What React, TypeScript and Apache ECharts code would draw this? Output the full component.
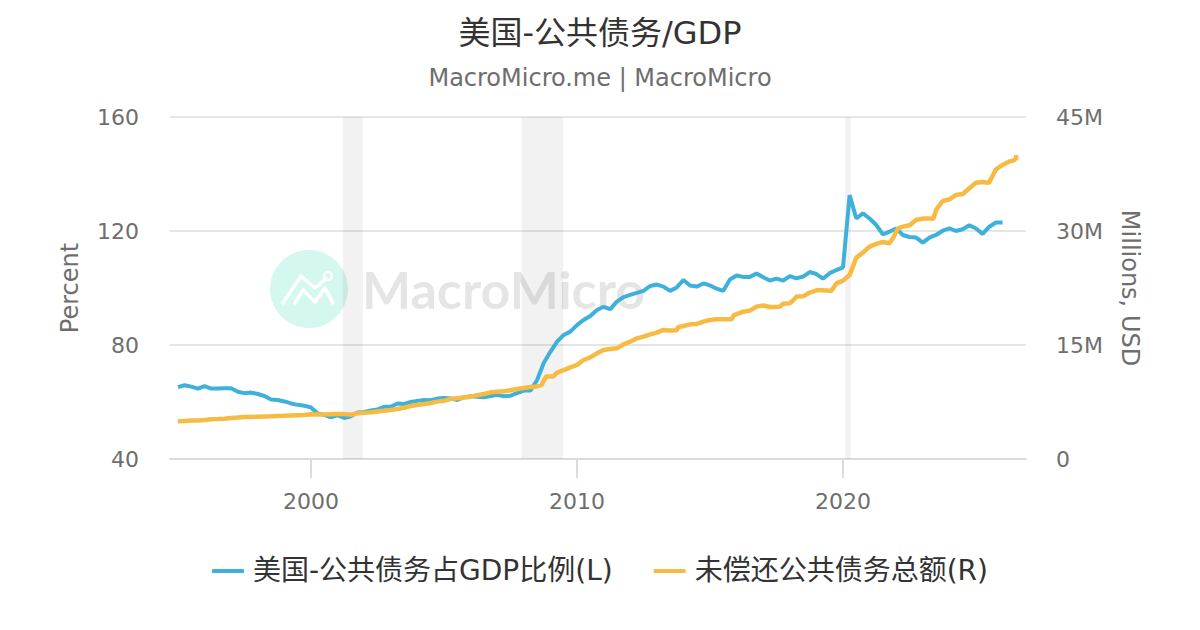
import React, { useEffect, useRef } from "react";
import * as echarts from "echarts";

const START_YEAR = 1995;
const STEP = 0.25;

// Percent of GDP, one value per quarter from 1995
const debtToGdp = [
  65.2, 65.9, 65.4, 64.7, 65.6, 64.7, 64.7, 64.8, 64.8, 63.6, 63.1, 63.3, 62.8, 62.1, 60.9, 60.7,
  60.2, 59.5, 59.0, 58.7, 58.1, 56.0, 55.5, 54.6, 55.4, 54.4, 55.0, 56.3, 56.5, 57.0, 57.4, 58.3,
  58.3, 59.5, 59.3, 60.0, 60.4, 60.7, 60.6, 61.2, 61.4, 61.2, 60.7, 61.7, 62.0, 61.8, 61.7, 62.1,
  62.5, 62.0, 62.2, 63.1, 64.0, 64.0, 67.7, 73.7, 77.6, 81.2, 83.5, 84.7, 87.0, 88.8, 90.2, 92.3,
  93.4, 92.6, 95.2, 96.8, 97.6, 98.3, 99.0, 100.7, 101.2, 100.5, 99.0, 100.2, 102.8, 100.9, 100.5, 101.6,
  100.9, 99.8, 99.0, 103.0, 104.4, 103.9, 103.9, 105.1, 103.8, 102.6, 103.3, 102.6, 104.2, 103.4, 104.0, 105.6,
  104.9, 103.3, 105.2, 106.3, 107.2, 132.6, 124.4, 126.2, 124.4, 122.1, 118.8, 119.8, 120.9, 118.6, 117.9, 117.7,
  115.9, 117.7, 118.6, 120.1, 120.9, 120.0, 120.6, 122.0, 120.9, 119.0, 121.5, 123.0, 123.0,
];

// Millions of USD, shown in M, one value per quarter from 1995
const totalDebt = [
  4.96, 5.0, 5.05, 5.08, 5.13, 5.22, 5.25, 5.3, 5.38, 5.45, 5.53, 5.54, 5.57, 5.6, 5.62, 5.66,
  5.68, 5.72, 5.76, 5.8, 5.88, 5.87, 5.87, 5.9, 5.92, 5.92, 5.83, 6.01, 6.07, 6.14, 6.25, 6.36,
  6.45, 6.58, 6.75, 6.97, 7.1, 7.23, 7.37, 7.55, 7.65, 7.9, 8.0, 8.1, 8.2, 8.4, 8.55, 8.77,
  8.85, 8.9, 9.04, 9.2, 9.35, 9.47, 9.55, 10.3, 10.84, 11.36, 11.7, 12.06, 12.37, 13.03, 13.38, 13.9,
  14.34, 14.47, 14.56, 15.09, 15.44, 15.88, 16.1, 16.4, 16.62, 16.98, 16.9, 16.95, 17.5, 17.72, 17.77, 18.07,
  18.29, 18.38, 18.38, 18.38, 19.05, 19.38, 19.52, 20.05, 20.2, 20.0, 20.0, 20.44, 20.49, 21.37, 21.4, 21.9,
  22.2, 22.2, 22.15, 23.1, 23.47, 24.2, 26.5, 27.15, 27.95, 28.3, 28.55, 28.4, 29.9, 30.57, 30.75, 31.45,
  31.63, 31.65, 32.77, 33.95, 34.17, 34.74, 34.87, 35.62, 36.36, 36.45, 36.4, 38.12, 38.69, 39.13, 39.4,
];

// Corners of the steps in the debt line, read between the quarters
const totalDebtSteps = [
  [2008.67, 9.74], [2008.84, 10.84], [2009.1, 10.84], [2013.8, 17.33],
  [2015.82, 18.38], [2015.9, 18.95], [2017.63, 20.05], [2018.2, 21.14],
  [2019.57, 22.15], [2019.76, 23.03], [2021.9, 29.17], [2022.08, 30.36],
  [2023.4, 31.6], [2025.46, 36.36], [2026.42, 39.3], [2026.47, 39.45], [2026.52, 40.0],
];

const recessions = [
  [2001.2, 2001.95],
  [2007.92, 2009.48],
  [2020.08, 2020.3],
];

const yearTicks = [2000, 2010, 2020];

const FONT = '"DejaVu Sans", "Noto Sans CJK SC", sans-serif';
const GREY = "#6e6e6e";

const toPairs = (values: number[]) => values.map((v, i) => [START_YEAR + i * STEP, v]);

export default function App() {
  const ref = useRef<HTMLDivElement>(null);

  useEffect(() => {
    document.body.style.margin = "0";
    const chart = echarts.init(ref.current!, undefined, { renderer: "svg" });
    const logoStroke = { stroke: "#ffffff", lineWidth: 3.5, fill: "none", lineCap: "round", lineJoin: "round" };
    chart.setOption({
      animation: false,
      backgroundColor: "#ffffff",
      textStyle: { fontFamily: FONT },
      title: {
        text: "美国-公共债务/GDP",
        subtext: "MacroMicro.me | MacroMicro",
        left: "center",
        top: 12,
        itemGap: 17,
        textStyle: { fontFamily: FONT, fontSize: 32, fontWeight: "normal", color: "#333333" },
        subtextStyle: { fontFamily: FONT, fontSize: 24, color: GREY },
      },
      grid: { left: 170, right: 174, top: 117, bottom: 171 },
      legend: {
        bottom: 40,
        left: "center",
        icon: "roundRect",
        itemWidth: 32,
        itemHeight: 4,
        itemGap: 41,
        textStyle: { fontFamily: FONT, fontSize: 28, color: "#333333", padding: [0, 0, 0, 4] },
        data: ["美国-公共债务占GDP比例(L)", "未偿还公共债务总额(R)"],
      },
      graphic: [
        {
          type: "group",
          z: 1,
          silent: true,
          children: [
            { type: "circle", shape: { cx: 309, cy: 289, r: 39 }, style: { fill: "#d4f7f0" } },
            {
              type: "polyline",
              shape: { points: [[283, 303], [301, 276], [315, 288], [326, 279]] },
              style: logoStroke,
            },
            {
              type: "polyline",
              shape: { points: [[295, 303], [303, 290], [315, 302], [325, 288], [333, 303]] },
              style: logoStroke,
            },
            { type: "circle", shape: { cx: 328, cy: 276, r: 4 }, style: { stroke: "#ffffff", lineWidth: 2.5, fill: "none" } },
            {
              type: "text",
              x: 362,
              y: 289,
              style: {
                text: "MacroMicro",
                font: "700 52px Lato, sans-serif",
                fill: "rgba(0,0,0,0.1)",
                verticalAlign: "middle",
              },
            },
          ],
        },
      ],
      xAxis: {
        type: "value",
        min: 1994.7,
        max: 2026.88,
        axisLine: { show: true, lineStyle: { color: "#dcdcdc", width: 2 } },
        axisTick: { show: true, length: 19, customValues: yearTicks, lineStyle: { color: "#dcdcdc", width: 2 } },
        axisLabel: {
          customValues: yearTicks,
          margin: 31,
          fontSize: 22,
          color: GREY,
          fontFamily: FONT,
          formatter: (v: number) => String(Math.round(v)),
        },
        splitLine: { show: false },
      },
      yAxis: [
        {
          type: "value",
          min: 40,
          max: 160,
          interval: 40,
          name: "Percent",
          nameLocation: "middle",
          nameGap: 88,
          nameTextStyle: { fontFamily: FONT, fontSize: 24, color: GREY },
          axisLine: { show: false },
          axisTick: { show: false },
          axisLabel: { margin: 31, fontSize: 22, color: GREY, fontFamily: FONT },
          splitLine: { lineStyle: { color: "#e6e6e6", width: 2 } },
        },
        {
          type: "value",
          min: 0,
          max: 45,
          interval: 15,
          name: "Millions, USD",
          nameLocation: "middle",
          nameGap: 92,
          nameRotate: -90,
          nameTextStyle: { fontFamily: FONT, fontSize: 24, color: GREY },
          axisLine: { show: false },
          axisTick: { show: false },
          axisLabel: {
            margin: 30,
            fontSize: 22,
            color: GREY,
            fontFamily: FONT,
            formatter: (v: number) => (v === 0 ? "0" : `${v}M`),
          },
          splitLine: { show: false },
        },
      ],
      series: [
        {
          name: "美国-公共债务占GDP比例(L)",
          type: "line",
          yAxisIndex: 0,
          data: toPairs(debtToGdp),
          showSymbol: false,
          color: "#3eb0da",
          lineStyle: { width: 4, color: "#3eb0da" },
          markArea: {
            silent: true,
            itemStyle: { color: "rgba(0,0,0,0.05)" },
            data: recessions.map(([a, b]) => [{ xAxis: a }, { xAxis: b }]),
          },
        },
        {
          name: "未偿还公共债务总额(R)",
          type: "line",
          yAxisIndex: 1,
          data: [...toPairs(totalDebt), ...totalDebtSteps].sort((p, q) => p[0] - q[0]),
          showSymbol: false,
          color: "#f7bb44",
          lineStyle: { width: 4.5, color: "#f7bb44" },
        },
      ],
    });
    return () => chart.dispose();
  }, []);

  return <div ref={ref} style={{ width: 1200, height: 630 }} />;
}
